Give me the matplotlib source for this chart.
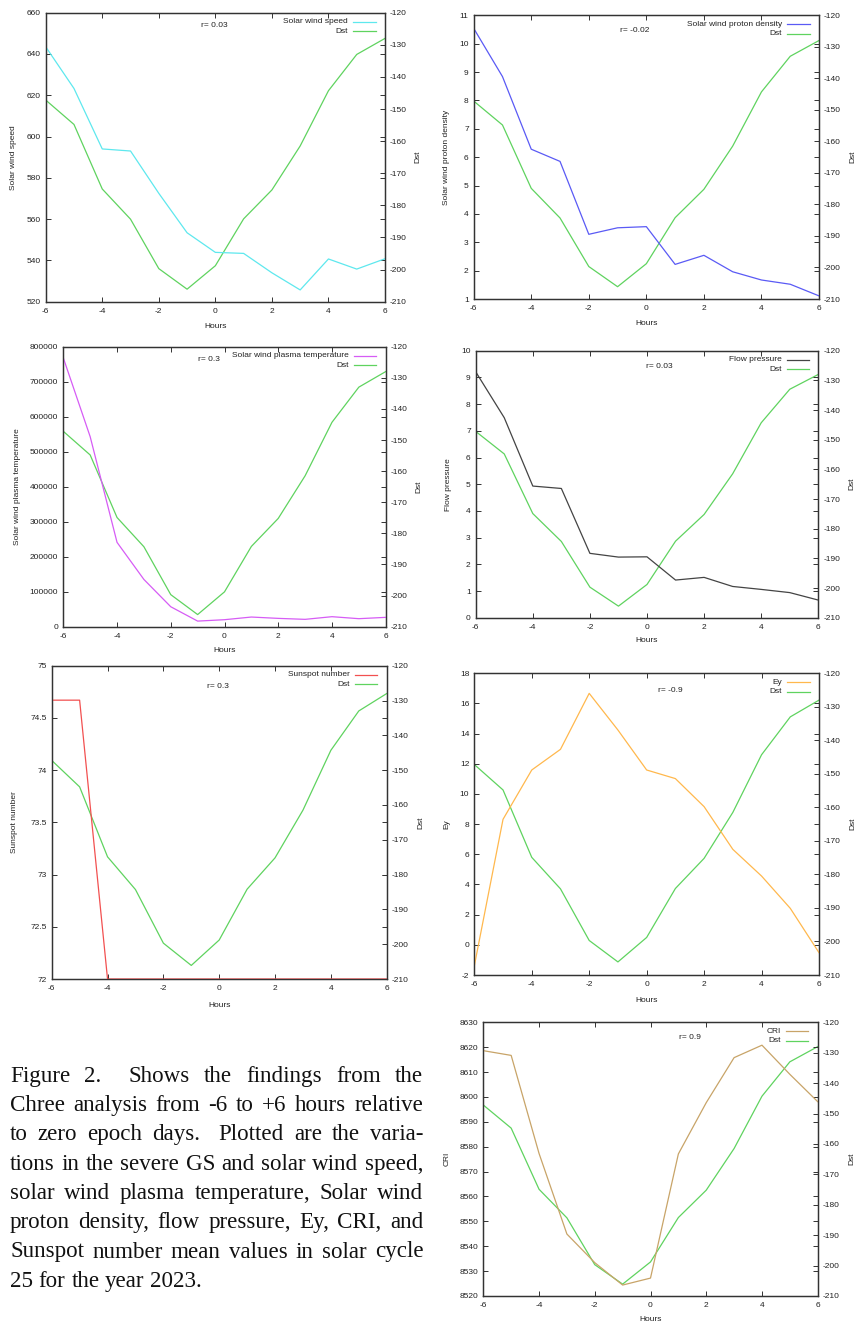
import matplotlib
matplotlib.use("Agg")
import matplotlib.pyplot as plt
from matplotlib.lines import Line2D
import numpy as np

# ---------------- data ----------------
hours = [-6, -5, -4, -3, -2, -1, 0, 1, 2, 3, 4, 5, 6]
dst = [-147.2, -154.8, -174.9, -184.3, -199.7, -206.1, -198.8, -184.2, -175.2, -161.5, -144.3, -133.0, -128.0]

sw_speed = [643.5, 623.3, 594.0, 593.0, 572.5, 553.4, 543.9, 543.4, 534.0, 525.7, 540.7, 535.8, 540.8]
proton_density = [10.54, 8.84, 6.28, 5.85, 3.28, 3.51, 3.55, 2.22, 2.54, 1.96, 1.67, 1.52, 1.11]
plasma_temp = [768000, 543000, 241000, 135000, 57000, 16000, 20000, 27600, 23800, 21000, 28600, 22900, 26700]
flow_pressure = [9.21, 7.49, 4.93, 4.84, 2.41, 2.27, 2.28, 1.41, 1.51, 1.17, 1.06, 0.94, 0.66]
sunspot = [74.67, 74.67, 72.0, 72.0, 72.0, 72.0, 72.0, 72.0, 72.0, 72.0, 72.0, 72.0, 72.0]
ey = [-1.4, 8.32, 11.59, 12.96, 16.67, 14.24, 11.59, 11.02, 9.16, 6.33, 4.56, 2.42, -0.52]
cri = [8618.6, 8616.7, 8577.3, 8544.9, 8533.4, 8524.4, 8527.2, 8577.1, 8597.7, 8615.8, 8620.8, 8609.1, 8598.1]

x_ticks = [-6, -4, -2, 0, 2, 4, 6]
dst_ticks = [-120, -130, -140, -150, -160, -170, -180, -190, -200, -210]

caption_lines = [
    "Figure 2.  Shows the findings from the",
    "Chree analysis from -6 to +6 hours relative",
    "to zero epoch days.  Plotted are the varia-",
    "tions in the severe GS and solar wind speed,",
    "solar wind plasma temperature, Solar wind",
    "proton density, flow pressure, Ey, CRI, and",
    "Sunspot number mean values in solar cycle",
    "25 for the year 2023.",
]

# ---------------- figure ----------------
W, H = 857, 1326
fig = plt.figure(figsize=(W / 100, H / 100), dpi=100)
plt.rcParams['font.family'] = ['Liberation Sans', 'DejaVu Sans']

def fx(px):
    return px / W

def fy(py):
    return 1 - py / H

TXT = '#222222'
FS = 6
DST_COLOR = '#5fd35f'

panels = [
    dict(box=(45.7, 12.7, 385.0, 301.7), y=sw_speed, label="Solar wind speed", color='#5ee8ee',
         ylim=(520, 660), yticks=list(range(520, 661, 20)), r="r= 0.03", rpos=(200.7, 25.7),
         ylab_x=13.3, dst_x=418.3, hours_y=326.0),
    dict(box=(473.7, 15.3, 819.0, 299.0), y=proton_density, label="Solar wind proton density", color='#5a5af5',
         ylim=(1, 11), yticks=list(range(1, 12)), r="r= -0.02", rpos=(620.0, 30.0),
         ylab_x=446.7, dst_x=852.7, hours_y=323.3),
    dict(box=(63.3, 346.7, 385.7, 626.7), y=plasma_temp, label="Solar wind plasma temperature", color='#d65cf5',
         ylim=(0, 800000), yticks=list(range(0, 800001, 100000)), r="r= 0.3", rpos=(197.7, 359.3),
         ylab_x=17.3, dst_x=419.3, hours_y=650.0),
    dict(box=(475.7, 350.7, 818.3, 617.7), y=flow_pressure, label="Flow pressure", color='#444444',
         ylim=(0, 10), yticks=list(range(0, 11)), r="r= 0.03", rpos=(646.0, 366.7),
         ylab_x=448.3, dst_x=851.7, hours_y=640.7),
    dict(box=(51.7, 665.7, 386.7, 979.0), y=sunspot, label="Sunspot number", color='#f25050',
         ylim=(72, 75), yticks=[72, 72.5, 73, 73.5, 74, 74.5, 75], r="r= 0.3", rpos=(207.3, 686.7),
         ylab_x=15.0, dst_x=420.7, hours_y=1005.7),
    dict(box=(474.3, 673.3, 819.0, 975.0), y=ey, label="Ey", color='#ffb84d',
         ylim=(-2, 18), yticks=list(range(-2, 19, 2)), r="r= -0.9", rpos=(657.7, 690.0),
         ylab_x=446.7, dst_x=852.7, hours_y=1000.7),
    dict(box=(483.3, 1022.3, 817.7, 1296.0), y=cri, label="CRI", color='#c8a468',
         ylim=(8520, 8630), yticks=list(range(8520, 8631, 10)), r="r= 0.9", rpos=(679.3, 1037.3),
         ylab_x=446.7, dst_x=851.7, hours_y=1319.3),
]

def fmt(v):
    if float(v).is_integer():
        return str(int(v))
    return str(v)

for p in panels:
    l, t, r, b = p['box']
    ax = fig.add_axes([fx(l), fy(b), (r - l) / W, (b - t) / H])
    ax2 = ax.twinx()
    ax.set_zorder(ax2.get_zorder() + 1)
    ax.patch.set_visible(False)

    line1, = ax.plot(hours, p['y'], color=p['color'], lw=0.9, clip_on=True)
    line2, = ax2.plot(hours, dst, color=DST_COLOR, lw=0.9)

    ax.set_xlim(-6, 6)
    ax.set_ylim(*p['ylim'])
    ax2.set_ylim(-210, -120)

    ax.set_xticks(x_ticks)
    ax.set_xticklabels([str(v) for v in x_ticks])
    ax.set_yticks(p['yticks'])
    ax.set_yticklabels([fmt(v) for v in p['yticks']])
    ax2.set_yticks(dst_ticks)
    ax2.set_yticklabels([str(v) for v in dst_ticks])

    ax.tick_params(axis='both', direction='in', length=3.6, width=0.7, color='#333333',
                   labelsize=FS, labelcolor=TXT, top=True, right=True, pad=3.6)
    ax.tick_params(axis='x', pad=4.5)
    ax2.tick_params(axis='y', direction='in', length=3.6, width=0.7, color='#333333',
                    labelsize=FS, labelcolor=TXT, pad=3.6)
    for a in (ax, ax2):
        for s in a.spines.values():
            s.set_color('#333333')
            s.set_linewidth(0.9)

    # axis labels
    ax.set_xlabel("Hours", fontsize=FS, color=TXT)
    ax.xaxis.set_label_coords(fx((l + r) / 2), fy(p['hours_y']), transform=fig.transFigure)
    ax.xaxis.label.set_verticalalignment('center')
    ax.set_ylabel(p['label'], fontsize=FS, color=TXT)
    ax.yaxis.set_label_coords(fx(p['ylab_x']), fy((t + b) / 2), transform=fig.transFigure)
    ax.yaxis.label.set_verticalalignment('center')
    ax2.set_ylabel("Dst", fontsize=FS, color=TXT)
    ax2.yaxis.set_label_coords(fx(p['dst_x']), fy((t + b) / 2), transform=fig.transFigure)
    ax2.yaxis.label.set_verticalalignment('center')

    # correlation text
    fig.text(fx(p['rpos'][0]), fy(p['rpos'][1]), p['r'], fontsize=FS, color=TXT,
             ha='left', va='center')

    # legend (gnuplot style: text then sample line)
    line_r = r - 9.3
    line_l = line_r - 22.5
    text_r = line_l - 5
    for k, (lab, col) in enumerate([(p['label'], p['color']), ("Dst", DST_COLOR)]):
        yy = t + 9.0 + k * 9.4
        fig.text(fx(text_r), fy(yy), lab, fontsize=FS, color=TXT, ha='right', va='center')
        fig.add_artist(Line2D([fx(line_l), fx(line_r)], [fy(yy), fy(yy)], color=col, lw=0.9,
                              transform=fig.transFigure))

# ---------------- caption (justified, wider sentence spacing) ----------------
renderer = fig.canvas.get_renderer()
x0, x1 = 10.0, 423.3
base0, step = 1081.7, 29.3
for i, line in enumerate(caption_lines):
    words = line.split()
    texts = [fig.text(0, 0, w, fontsize=16.6, family=['Liberation Serif', 'DejaVu Serif'],
                      color='#111111', ha='left', va='baseline') for w in words]
    widths = [tx.get_window_extent(renderer).width for tx in texts]
    weights = [1.9 if w.endswith('.') else 1.0 for w in words[:-1]]
    if i == len(caption_lines) - 1:
        unit = 0.25 * 16.6 * 100 / 72
        gaps = [unit] * (len(words) - 1)
    else:
        unit = (x1 - x0 - sum(widths)) / sum(weights)
        gaps = [unit * wt for wt in weights]
    x = x0
    yb = base0 + i * step
    for j, (tx, wd) in enumerate(zip(texts, widths)):
        tx.set_position((fx(x), fy(yb)))
        if j < len(gaps):
            x += wd + gaps[j]

fig.savefig("out.png", dpi=100)
